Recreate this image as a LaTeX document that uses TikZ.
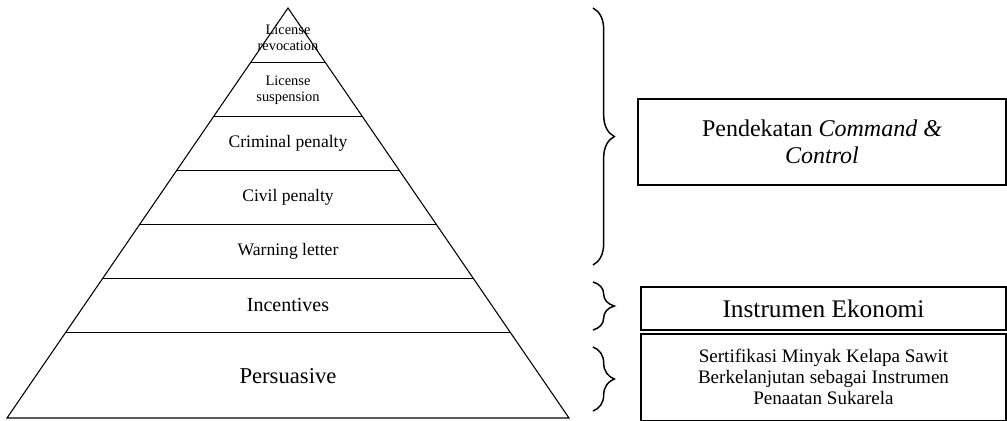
\documentclass[tikz,border=0pt]{standalone}
\usepackage{fontspec}
\setmainfont{Liberation Serif}
\usetikzlibrary{calc,decorations.pathreplacing}
\tikzset{lvl/.style={align=center,inner sep=0pt,font=\fontsize{13.2}{14.5}\selectfont}, tag/.style={draw,line width=1.5pt,align=center,inner sep=2pt}, brc/.style={decorate,decoration={brace,amplitude=16pt},line width=1.1pt}, rung/.style={line width=0.6pt}}

\begin{document}
\begin{tikzpicture}[x=0.75pt,y=-0.75pt]
\useasboundingbox (0,0) rectangle (1007,421);
% pyramid
\coordinate (A) at (288,8); \coordinate (L) at (7,418); \coordinate (R) at (569,418);
\draw[line width=0.8pt] (A) -- (L) -- (R) -- cycle;
\foreach \i in {1,...,6} \draw[rung] ($(A)!\i*54/410!(L)$) -- ($(A)!\i*54/410!(R)$);
\node[lvl,font=\fontsize{10.8}{11.8}\selectfont] (rev) at (288,38) {License\\revocation};
\node[lvl,font=\fontsize{10.8}{11.8}\selectfont] (sus) at (288,90) {License\\suspension};
\node[lvl] (crim) at (288,143) {Criminal penalty};
\node[lvl] (civ) at (288,197) {Civil penalty};
\node[lvl] (warn) at (288,251) {Warning letter};
\node[lvl,font=\fontsize{15}{17}\selectfont] (inc) at (288,305) {Incentives};
\node[lvl,font=\fontsize{17}{19}\selectfont] (per) at (288,376) {Persuasive};
% braces and boxes
\coordinate (b1t) at (593,8); \coordinate (b1b) at (593,265);
\coordinate (b2t) at (593,282); \coordinate (b2b) at (593,330);
\coordinate (b3t) at (593,347); \coordinate (b3b) at (593,411);
\draw[brc] (b1t) -- (b1b);
\draw[brc] (b2t) -- (b2b);
\draw[brc] (b3t) -- (b3b);
\node[tag,minimum width=276pt,minimum height=64.5pt,font=\fontsize{18}{20}\selectfont] (cmd) at (822,142) {Pendekatan \textit{Command \&}\\\textit{Control}};
\node[tag,minimum width=273.75pt,minimum height=32.25pt,font=\fontsize{19}{21}\selectfont] (eko) at (823.5,308.5) {Instrumen Ekonomi};
\node[tag,minimum width=273.75pt,minimum height=65.25pt,font=\fontsize{14.3}{15.5}\selectfont] (psk) at (823.5,377) {Sertifikasi Minyak Kelapa Sawit\\Berkelanjutan sebagai Instrumen\\Penaatan Sukarela};
\end{tikzpicture}
\end{document}
